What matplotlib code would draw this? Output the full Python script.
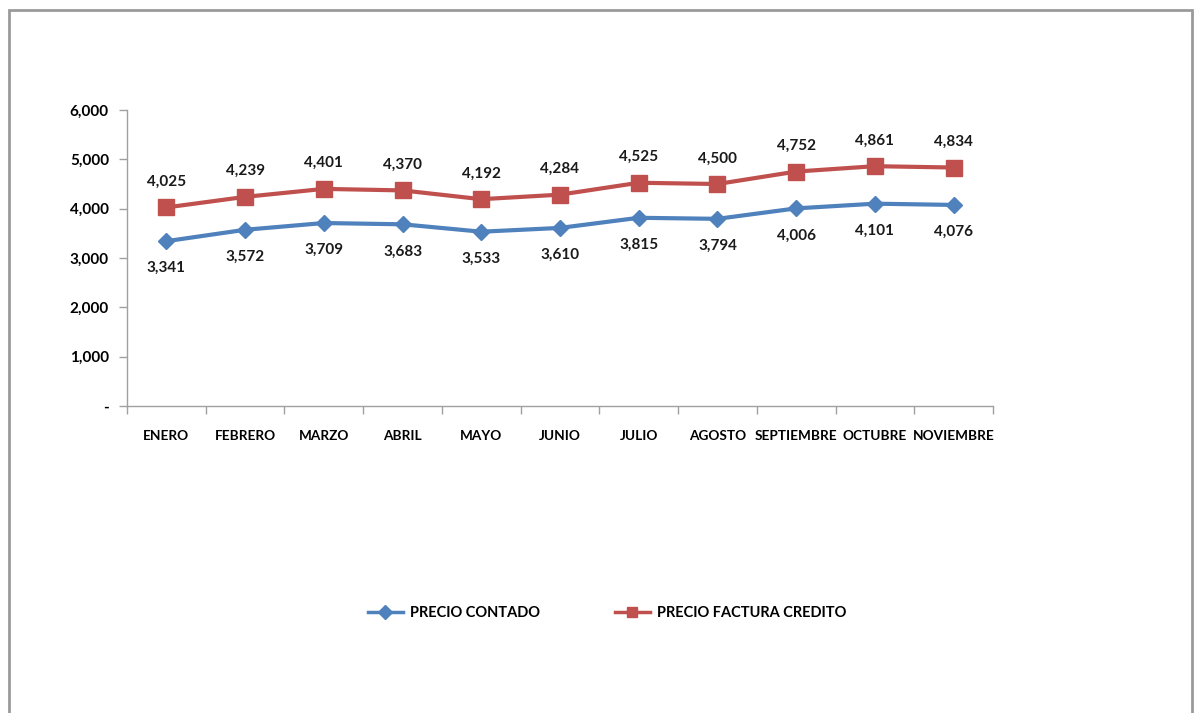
import matplotlib
matplotlib.use('Agg')
import matplotlib.pyplot as plt
from matplotlib.ticker import FuncFormatter, FixedLocator
from matplotlib.patches import Rectangle
import numpy as np

plt.rcParams['font.family'] = ['Lato', 'DejaVu Sans']
plt.rcParams['font.weight'] = 'bold'

# data
meses = ['ENERO', 'FEBRERO', 'MARZO', 'ABRIL', 'MAYO', 'JUNIO', 'JULIO',
         'AGOSTO', 'SEPTIEMBRE', 'OCTUBRE', 'NOVIEMBRE']
precio_contado = [3341, 3572, 3709, 3683, 3533, 3610, 3815, 3794, 4006, 4101, 4076]
precio_credito = [4025, 4239, 4401, 4370, 4192, 4284, 4525, 4500, 4752, 4861, 4834]
y_ticks = [0, 1000, 2000, 3000, 4000, 5000, 6000]

azul = '#4F81BD'
rojo = '#C0504D'

fig = plt.figure(figsize=(11.94, 7.13), dpi=100)

# gray frame around the chart area
fig.patches.append(Rectangle((9 / 1194, -0.05), (1183) / 1194, 1.05 - 10 / 713,
                             transform=fig.transFigure, fill=False,
                             edgecolor='#9a9a9a', linewidth=2))

ax = fig.add_axes([127 / 1194, 1 - 406 / 713, (993 - 127) / 1194, (406 - 110) / 713])

x = np.arange(len(meses))
ax.plot(x, precio_contado, color=azul, linewidth=3, marker='D', markersize=8,
        label='PRECIO CONTADO')
ax.plot(x, precio_credito, color=rojo, linewidth=3, marker='s', markersize=11,
        label='PRECIO FACTURA CREDITO')

# value labels: credit above, cash below
for i in range(len(meses)):
    ax.annotate('{:,}'.format(precio_credito[i]), (x[i], precio_credito[i]),
                xytext=(0, 18.5), textcoords='offset points', ha='center', va='center',
                fontsize=11, fontweight='bold', color='#1a1a1a')
    ax.annotate('{:,}'.format(precio_contado[i]), (x[i], precio_contado[i]),
                xytext=(0, -19.5), textcoords='offset points', ha='center', va='center',
                fontsize=11, fontweight='bold', color='#1a1a1a')

ax.set_xlim(-0.5, len(meses) - 0.5)
ax.set_ylim(0, 6000)

def fmt_y(v, pos):
    if v == 0:
        return '-'
    return '{:,.0f}'.format(v)

ax.yaxis.set_major_locator(FixedLocator(y_ticks))
ax.yaxis.set_major_formatter(FuncFormatter(fmt_y))

ax.set_xticks(np.arange(-0.5, len(meses), 1.0))
ax.set_xticklabels([])
ax.set_xticks(x, minor=True)
ax.set_xticklabels(meses, minor=True)
ax.tick_params(axis='x', which='minor', length=0, pad=17, labelsize=9.8)
ax.tick_params(axis='x', which='major', length=6, color='#a0a0a0', width=1)
ax.tick_params(axis='y', length=6, color='#a0a0a0', width=1, pad=7, labelsize=11)

for side in ['top', 'right']:
    ax.spines[side].set_visible(False)
for side in ['left', 'bottom']:
    ax.spines[side].set_color('#a0a0a0')
    ax.spines[side].set_linewidth(1)

leg = fig.legend(loc='center', bbox_to_anchor=(607 / 1194, 1 - 613 / 713), ncol=2,
                 frameon=False, fontsize=10.5, columnspacing=5.1, handlelength=2.4,
                 handletextpad=0.5)
for line in leg.get_lines():
    line.set_markersize(7)
    line.set_linewidth(2.5)

fig.savefig('out.png', dpi=100)
